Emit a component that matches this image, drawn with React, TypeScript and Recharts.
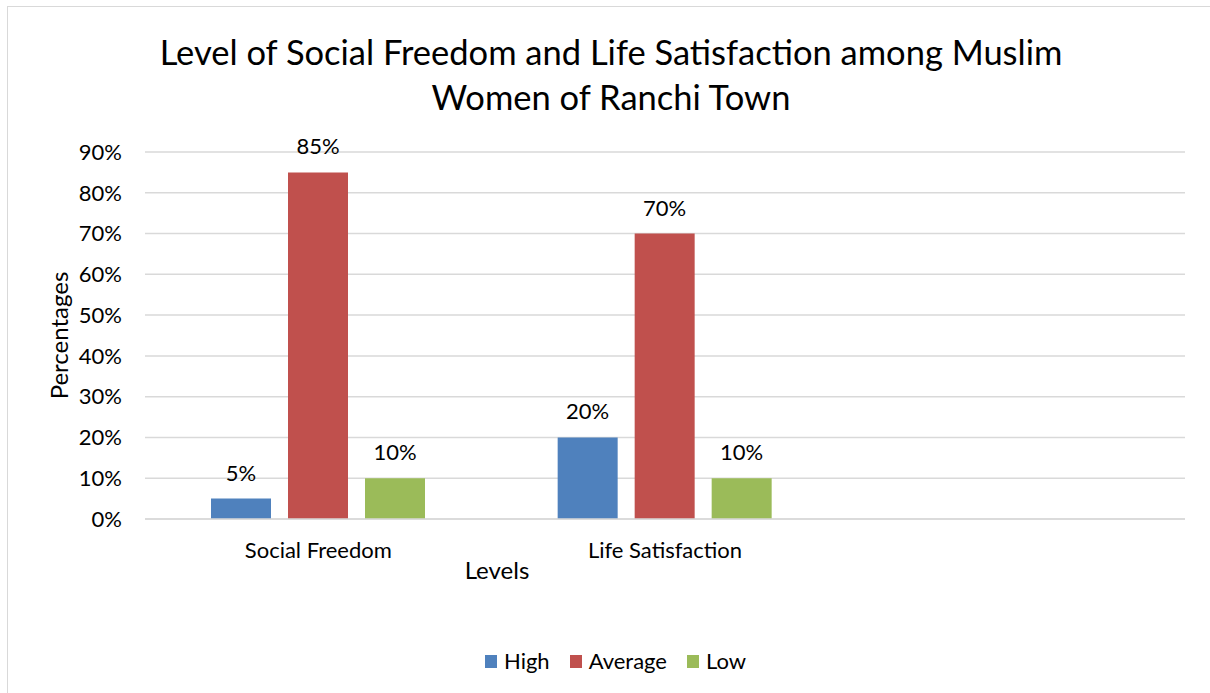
import React from 'react';
import { BarChart, Bar, XAxis, YAxis, CartesianGrid, LabelList, Label } from 'recharts';

const categories = ['Social Freedom', 'Life Satisfaction', ''];
const highValues = [5, 20, null];
const averageValues = [85, 70, null];
const lowValues = [10, 10, null];
const yTicks = [0, 10, 20, 30, 40, 50, 60, 70, 80, 90];
const seriesNames = ['High', 'Average', 'Low'];
const seriesColors = ['#4F81BD', '#C0504D', '#9BBB59'];

const data = categories.map((c, i) => ({
  name: c,
  High: highValues[i],
  Average: averageValues[i],
  Low: lowValues[i],
}));

const FONT = 'Lato, "Open Sans", sans-serif';
const pct = (v: any) => (v === null || v === undefined ? '' : `${v}%`);

export default function App() {
  return (
    <div style={{ position: 'absolute', left: 0, top: 0, width: 1210, height: 693, background: '#fff', fontFamily: FONT, overflow: 'hidden' }}>
      <div style={{ position: 'absolute', left: 7, top: 6, width: 1210, height: 700, borderLeft: '1px solid #d9d9d9', borderTop: '1px solid #d9d9d9' }} />
      <div style={{ position: 'absolute', left: 0, top: 29, width: 1222, textAlign: 'center', fontSize: 34.5, lineHeight: '45px', color: '#000' }}>
        Level of Social Freedom and Life Satisfaction among Muslim<br />Women of Ranchi Town
      </div>
      <div style={{ position: 'absolute', left: 0, top: 0 }}>
        <BarChart
          width={1210}
          height={693}
          data={data}
          margin={{ top: 152, right: 25, left: 85, bottom: 134 }}
          barSize={60}
          barGap={17}
        >
          <CartesianGrid vertical={false} stroke="#d9d9d9" strokeWidth={1.5} />
          <XAxis
            dataKey="name"
            height={40}
            axisLine={{ stroke: '#d9d9d9', strokeWidth: 1.5 }}
            tickLine={false}
            tick={{ fill: '#000', fontSize: 22, fontFamily: FONT }}
            tickMargin={17}
            interval={0}
          >
            <Label value="Levels" position="insideBottom" offset={-20} dx={-168} style={{ fill: '#000', fontSize: 24, fontFamily: FONT }} />
          </XAxis>
          <YAxis
            width={60}
            domain={[0, 90]}
            ticks={yTicks}
            tickFormatter={pct}
            axisLine={false}
            tickLine={false}
            tick={{ fill: '#000', fontSize: 22, fontFamily: FONT }}
            tickMargin={17}
          >
            <Label value="Percentages" angle={-90} position="insideLeft" offset={-26} style={{ fill: '#000', fontSize: 24, fontFamily: FONT, textAnchor: 'middle' }} />
          </YAxis>
          {seriesNames.map((s, i) => (
            <Bar key={s} dataKey={s} fill={seriesColors[i]} isAnimationActive={false}>
              <LabelList dataKey={s} position="top" offset={18} formatter={pct} style={{ fill: '#000', fontSize: 22, fontFamily: FONT }} />
            </Bar>
          ))}
        </BarChart>
      </div>
      <div style={{ position: 'absolute', left: 485, top: 647, display: 'flex', fontSize: 22, lineHeight: '28px', color: '#000' }}>
        {seriesNames.map((s, i) => (
          <div key={s} style={{ display: 'flex', alignItems: 'center', marginRight: 20 }}>
            <span style={{ display: 'inline-block', width: 12, height: 13, background: seriesColors[i], marginRight: 7 }} />
            <span>{s}</span>
          </div>
        ))}
      </div>
    </div>
  );
}
